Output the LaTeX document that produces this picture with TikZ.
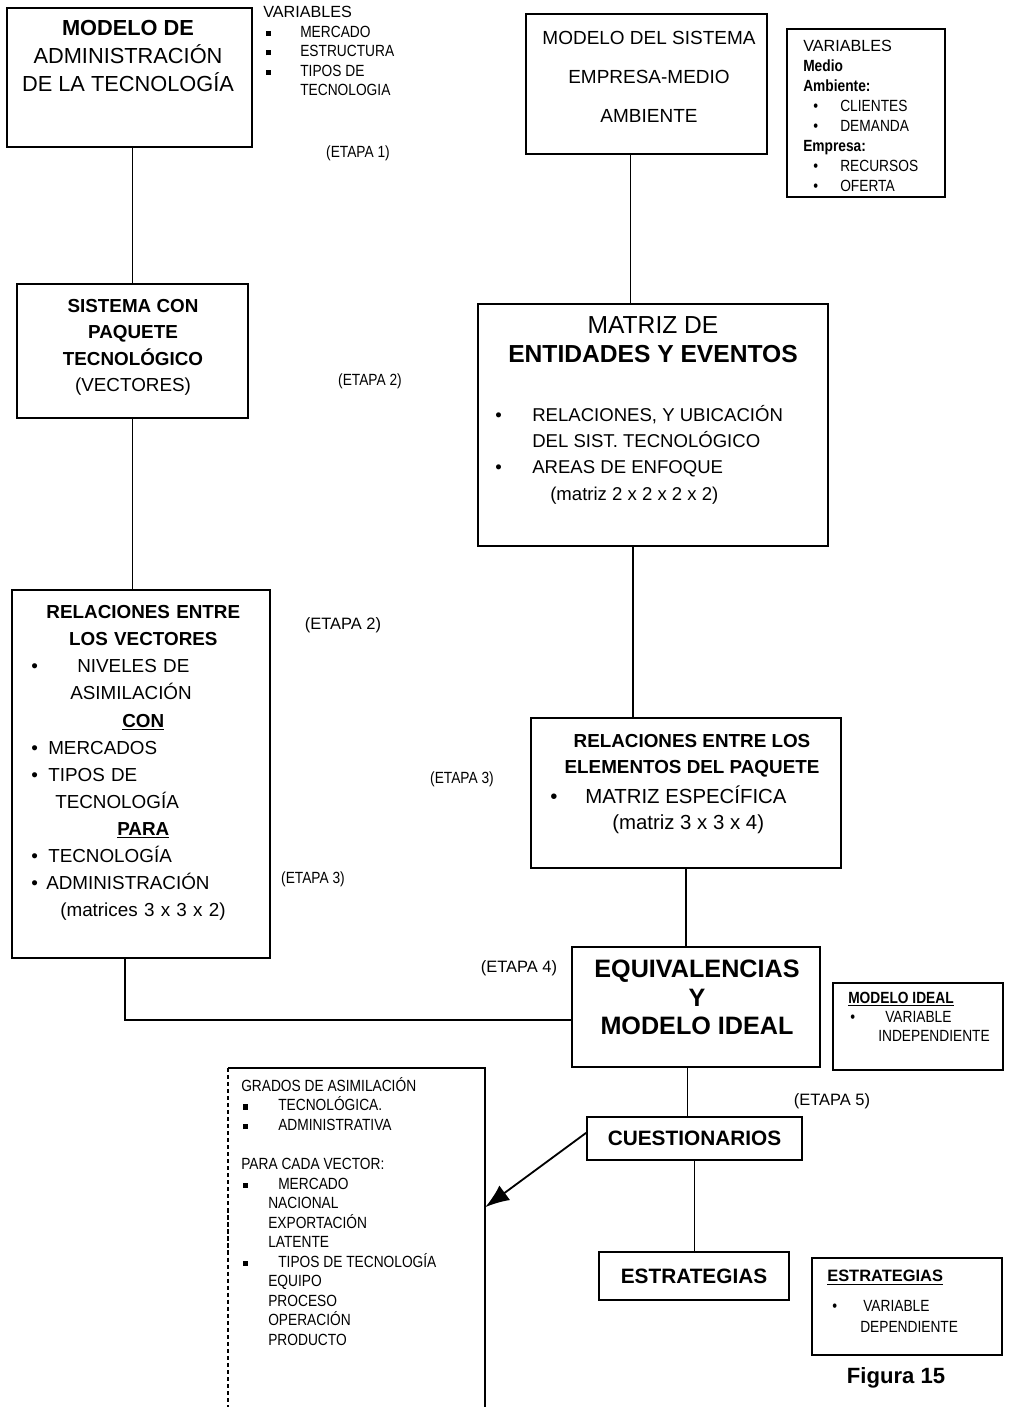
\documentclass[tikz,border=0pt]{standalone}
\usepackage{fontspec}
\setmainfont{Liberation Sans}
\newfontfamily\angosta[FakeStretch=0.85]{Liberation Sans}
\usetikzlibrary{arrows.meta}
\newcommand{\tam}[2]{\fontsize{#1}{#2}\selectfont}
\newcommand{\punto}[2][0pt]{\makebox[#2][l]{\hspace{#1}\textbullet}}
\newcommand{\cuadrito}[2][0pt]{\makebox[#2][l]{\hspace{#1}\rule[0.15ex]{0.6ex}{0.6ex}}}
\newcommand{\centrado}[1]{\hspace*{\fill}#1\hspace*{\fill}\mbox{}}

\begin{document}
\begin{tikzpicture}[x=0.025cm, y=-0.025cm,
    caja/.style 2 args={draw, line width=1.3pt, inner sep=0pt, minimum width=#1, minimum height=#2},
    texto/.style={inner sep=0pt},
    etapa/.style={inner sep=0pt, font=\angosta\tam{11.5}{13}},
    etapag/.style={inner sep=0pt, font=\tam{11.7}{13}},
    linea/.style={line width=1.3pt},
    flecha/.style={line width=1.3pt, -{Latex[length=0.6cm,width=0.45cm]}}]
    \useasboundingbox (0,0) rectangle (1011,1407);

    % cajas
    \node[caja={6.125cm}{3.475cm}] (admin) at (129.5,77.5) {};
    \node[caja={5.775cm}{3.35cm}] (paquete) at (132.5,351) {};
    \node[caja={6.45cm}{9.2cm}] (vectores) at (141,774) {};
    \node[caja={6.025cm}{3.5cm}] (sistema) at (646.5,84) {};
    \node[caja={3.95cm}{4.2cm}] (medio) at (866,113) {};
    \node[caja={8.75cm}{6.05cm}] (matriz) at (653,425) {};
    \node[caja={7.75cm}{3.75cm}] (elementos) at (686,793) {};
    \node[caja={6.2cm}{3cm}] (equiv) at (696,1007) {};
    \node[caja={4.25cm}{2.175cm}] (ideal) at (918,1026.5) {};
    \node[caja={5.375cm}{1.075cm}, font=\bfseries\tam{14.8}{18}] (cuest) at (694.5,1138.5) {CUESTIONARIOS};
    \node[caja={4.75cm}{1.2cm}, font=\bfseries\tam{14.8}{18}] (estrat) at (694,1276) {ESTRATEGIAS};
    \node[caja={4.75cm}{2.425cm}] (varestrat) at (907,1306.5) {};
    \node[inner sep=0pt, minimum width=6.425cm, minimum height=8.475cm] (grados) at (356.5,1237.5) {};
    \draw[linea] (grados.south east) -- (grados.north east) -- (grados.north west);
    \draw[linea, densely dashed] (grados.north west) -- (grados.south west);

    % textos
    \node[texto, anchor=north, align=center, font=\tam{15.5}{19.9}] (t-admin) at (128,20)
        {\textbf{MODELO DE}\\ADMINISTRACIÓN\\DE LA TECNOLOGÍA};
    \node[texto, anchor=north west, align=left, font=\angosta\tam{11.5}{13.9}] (v-admin) at (263,6)
        {{\rmfamily\tam{11.5}{13.9}VARIABLES}\\
         \cuadrito[0.075cm]{0.925cm}MERCADO\\
         \cuadrito[0.075cm]{0.925cm}ESTRUCTURA\\
         \cuadrito[0.075cm]{0.925cm}TIPOS DE\\
         \hspace*{0.925cm}TECNOLOGIA};
    \node[texto, anchor=north, align=center, font=\tam{13.4}{18.7}] (t-paquete) at (133,299)
        {\textbf{SISTEMA CON}\\\textbf{PAQUETE}\\\textbf{TECNOLÓGICO}\\(VECTORES)};
    \node[texto, anchor=north west, align=left, text width=5.6cm, font=\tam{13.4}{19.3}] (t-vectores) at (31,605)
        {\centrado{\textbf{RELACIONES ENTRE}}\\
         \centrado{\textbf{LOS VECTORES}}\\
         \punto{1.15cm}NIVELES DE\\
         \hspace*{0.975cm}ASIMILACIÓN\\
         \centrado{\textbf{\underline{CON}}}\\
         \punto{0.425cm}MERCADOS\\
         \punto{0.425cm}TIPOS DE\\
         \hspace*{0.6cm}TECNOLOGÍA\\
         \centrado{\textbf{\underline{PARA}}}\\
         \punto{0.425cm}TECNOLOGÍA\\
         \punto{0.375cm}ADMINISTRACIÓN\\
         \hspace*{0.725cm}(matrices 3 x 3 x 2)};
    \node[texto, anchor=north, align=center, font=\tam{13.5}{27.7}] (t-sistema) at (649,31)
        {MODELO DEL SISTEMA\\EMPRESA-MEDIO\\AMBIENTE};
    \node[texto, anchor=north west, align=left, font=\angosta\tam{11.5}{14.2}] (t-medio) at (803,40)
        {{\rmfamily\tam{11.5}{14.2}VARIABLES}\\
         \textbf{Medio}\\
         \textbf{Ambiente:}\\
         \punto[0.25cm]{0.925cm}CLIENTES\\
         \punto[0.25cm]{0.925cm}DEMANDA\\
         \textbf{Empresa:}\\
         \punto[0.25cm]{0.925cm}RECURSOS\\
         \punto[0.25cm]{0.925cm}OFERTA};
    \node[texto, anchor=north, align=center, font=\tam{17.5}{20.6}] (t-matriz) at (653,316)
        {MATRIZ DE\\\textbf{ENTIDADES Y EVENTOS}};
    \node[texto, anchor=north west, align=left, font=\tam{13.2}{18.7}] (l-matriz) at (495,405)
        {\punto{0.925cm}RELACIONES, Y UBICACIÓN\\
         \hspace*{0.925cm}DEL SIST. TECNOLÓGICO\\
         \punto{0.925cm}AREAS DE ENFOQUE\\
         \hspace*{1.375cm}(matriz 2 x 2 x 2 x 2)};
    \node[texto, anchor=north, align=center, font=\bfseries\tam{13.4}{18.5}] (t-elementos) at (692,734)
        {RELACIONES ENTRE LOS\\ELEMENTOS DEL PAQUETE};
    \node[texto, anchor=north west, align=left, font=\tam{14.5}{18.5}] (l-elementos) at (550,786)
        {\punto{0.875cm}MATRIZ ESPECÍFICA\\
         \hspace*{1.55cm}(matriz 3 x 3 x 4)};
    \node[texto, anchor=north, align=center, font=\bfseries\tam{17.9}{20.3}] (t-equiv) at (697,960)
        {EQUIVALENCIAS\\Y\\MODELO IDEAL};
    \node[texto, anchor=north west, align=left, font=\angosta\tam{11.5}{13.5}] (t-ideal) at (848,992)
        {\textbf{\underline{MODELO IDEAL}}\\
         \punto[0.05cm]{0.925cm}VARIABLE\\
         \hspace*{0.75cm}INDEPENDIENTE};
    \node[texto, anchor=north west, align=left, font=\angosta\tam{11.5}{14.9}] (t-varestrat) at (827,1270)
        {{\rmfamily\bfseries\tam{11.7}{14.9}\underline{ESTRATEGIAS}}\\[6.4pt]
         \punto[0.125cm]{0.9cm}VARIABLE\\
         \hspace*{0.825cm}DEPENDIENTE};
    \node[texto, anchor=north west, align=left, font=\angosta\tam{11.5}{13.9}] (t-grados) at (241,1077)
        {GRADOS DE ASIMILACIÓN\\
         \cuadrito[0.05cm]{0.925cm}TECNOLÓGICA.\\
         \cuadrito[0.05cm]{0.925cm}ADMINISTRATIVA\\[13.9pt]
         PARA CADA VECTOR:\\
         \cuadrito[0.05cm]{0.925cm}MERCADO\\
         \hspace*{0.675cm}NACIONAL\\
         \hspace*{0.675cm}EXPORTACIÓN\\
         \hspace*{0.675cm}LATENTE\\
         \cuadrito[0.05cm]{0.925cm}TIPOS DE TECNOLOGÍA\\
         \hspace*{0.675cm}EQUIPO\\
         \hspace*{0.675cm}PROCESO\\
         \hspace*{0.675cm}OPERACIÓN\\
         \hspace*{0.675cm}PRODUCTO};

    % etapas
    \node[etapa] (etapa1) at (358,153) {(ETAPA 1)};
    \node[etapa] (etapa2a) at (370,381) {(ETAPA 2)};
    \node[etapag] (etapa2b) at (343,625) {(ETAPA 2)};
    \node[etapa] (etapa3a) at (462,779) {(ETAPA 3)};
    \node[etapa] (etapa3b) at (313,879) {(ETAPA 3)};
    \node[etapag] (etapa4) at (519,968) {(ETAPA 4)};
    \node[etapag] (etapa5) at (832,1101) {(ETAPA 5)};
    \node[texto, font=\bfseries\tam{15.7}{18}] (figura) at (896,1378) {Figura 15};

    % conexiones
    \draw[linea] (paquete.north) -- (paquete.north |- admin.south);
    \draw[linea] (paquete.south) -- (paquete.south |- vectores.north);
    \draw[linea] ([xshift=-0.4cm]vectores.south) |- ([yshift=-0.325cm]equiv.west);
    \draw[linea] ([xshift=-0.4cm]sistema.south) -- ([xshift=-0.4cm]sistema.south |- matriz.north);
    \draw[linea] ([xshift=-0.5cm]matriz.south) -- ([xshift=-0.5cm]matriz.south |- elementos.north);
    \draw[linea] (elementos.south) -- (elementos.south |- equiv.north);
    \draw[linea] ([xshift=-0.175cm]cuest.north) -- ([xshift=-0.175cm]cuest.north |- equiv.south);
    \draw[linea] (cuest.south) -- (cuest.south |- estrat.north);
    \draw[flecha] ([yshift=0.14cm]cuest.west) -- ([yshift=0.76cm]grados.east);
\end{tikzpicture}
\end{document}
